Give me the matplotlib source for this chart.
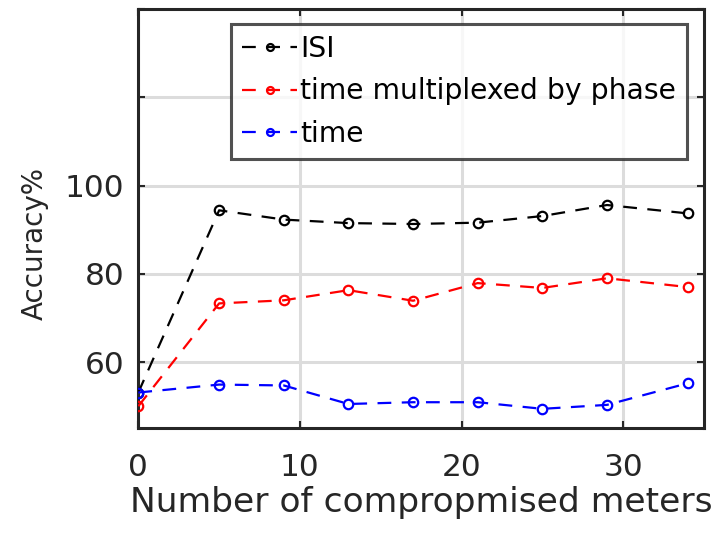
import matplotlib
matplotlib.use("Agg")
import matplotlib.pyplot as plt

plt.rcParams['font.family'] = ['DejaVu Sans']

meters = [0, 5, 9, 13, 17, 21, 25, 29, 34]
isi = [53.1, 94.4, 92.3, 91.5, 91.3, 91.6, 93.1, 95.6, 93.7]
tmp = [50.0, 73.3, 74.0, 76.3, 73.9, 77.9, 76.8, 79.0, 77.0]
tm = [53.1, 54.9, 54.7, 50.5, 50.9, 50.9, 49.4, 50.3, 55.2]

series = [(isi, "k", "ISI"),
          (tmp, "#ff0000", "time multiplexed by phase"),
          (tm, "#0000ff", "time")]

yticks = [60, 80, 100, 120, 140]
yticklabels = ["60", "80", "100", "", ""]
xticks = [0, 10, 20, 30]

fig = plt.figure(figsize=(7.28, 5.38), dpi=100)
ax = fig.add_axes([0.19, 0.204, 0.777, 0.779])

for vals, col, lab in series:
    ax.plot(meters, vals, linestyle=(0, (6.2, 4.7)), color=col, lw=1.6,
            marker="o", markersize=6.8, markerfacecolor="none",
            markeredgewidth=1.6, label=lab, zorder=3)

ax.set_xlim(0, 35)
ax.set_ylim(45, 140)
ax.set_xticks(xticks)
ax.set_yticks(yticks)
ax.set_yticklabels(yticklabels)
ax.grid(True, color="#dcdcdc", lw=2.2)
ax.set_axisbelow(True)

for sp in ax.spines.values():
    sp.set_linewidth(2.2)
    sp.set_color("#262626")
ax.tick_params(direction="in", length=5, width=1.5, color="#262626",
               top=True, right=True, labelsize=22.5, labelcolor="#262626")
ax.tick_params(axis="x", pad=18)
ax.tick_params(axis="y", pad=10)

ax.set_xlabel("Number of compropmised meters", fontsize=24.8, color="#262626",
              labelpad=3)
ax.set_ylabel("Accuracy%", fontsize=20, color="#262626")
ax.yaxis.set_label_coords(-0.158, 0.44)

leg = ax.legend(loc="upper right", bbox_to_anchor=(0.97, 0.965), fontsize=20.3,
                frameon=True, fancybox=False, handlelength=1.95,
                handletextpad=0.1, borderpad=0.4, labelspacing=0.51,
                borderaxespad=0)
leg.get_frame().set_edgecolor("#262626")
leg.get_frame().set_linewidth(2.2)
for h in leg.legend_handles:
    h.set_markersize(5)

fig.savefig("out.png", dpi=100)
